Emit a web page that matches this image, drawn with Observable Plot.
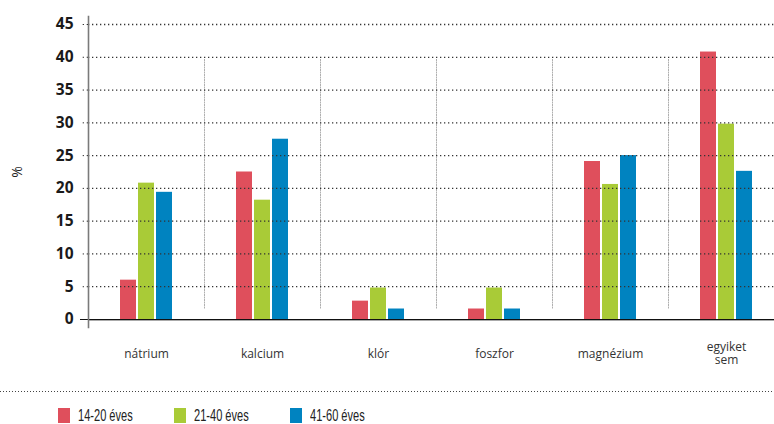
<!DOCTYPE html>
<html>
<head>
<meta charset="utf-8">
<script src="https://cdn.jsdelivr.net/npm/d3@7"></script>
<script src="https://cdn.jsdelivr.net/npm/@observablehq/plot@0.6"></script>
<style>
  html, body { margin: 0; padding: 0; background: #fff; overflow: hidden; width: 774px; height: 424px; }
  #chart svg { display: block; overflow: hidden; }
  .divider { margin-top: 6px; height: 1px; background: repeating-linear-gradient(to right, #444 0 1px, transparent 1px 3px); }
  .legend { display: flex; padding-left: 58px; margin-top: 16px; font-family: "Liberation Sans", "Open Sans", sans-serif; font-size: 16.5px; line-height: 15px; color: #222; }
  .item { width: 116px; display: flex; align-items: center; }
  .swatch { width: 12px; height: 15px; margin-right: 8px; flex: none; }
  .item span.text { display: inline-block; transform: scaleX(0.67); transform-origin: left center; white-space: nowrap; }
</style>
</head>
<body>
<div id="chart"></div>
<div class="divider"></div>
<div class="legend" id="legend"></div>
<script>
// Minerals and the share (%) of each age group
const categories = ["nátrium", "kalcium", "klór", "foszfor", "magnézium", "egyiket sem"];
const categoryLabels = ["nátrium", "kalcium", "klór", "foszfor", "magnézium", "egyiket\nsem"];
const series = ["14-20 éves", "21-40 éves", "41-60 éves"];
const age14to20 = [6.0, 22.5, 2.8, 1.6, 24.1, 40.8];
const age21to40 = [20.8, 18.2, 4.8, 4.8, 20.6, 29.8];
const age41to60 = [19.4, 27.5, 1.6, 1.6, 25.0, 22.6];
const seriesColors = ["#df4f5c", "#a9cb37", "#0083c0"];
const yTicks = [0, 5, 10, 15, 20, 25, 30, 35, 40, 45];

const seriesValues = [age14to20, age21to40, age41to60];
const rows = categories.flatMap((category, i) =>
  series.map((s, j) => ({category, series: s, value: seriesValues[j][i]}))
);

const chart = Plot.plot({
  width: 774,
  height: 385,
  marginTop: 24,
  marginBottom: 66,
  marginLeft: 86,
  marginRight: 0,
  style: {fontFamily: "'Open Sans', sans-serif", background: "#fff"},
  fx: {domain: categories, range: [86, 786], padding: 0, axis: null},
  x: {domain: series, paddingInner: 0.105, paddingOuter: 1.62, axis: null},
  y: {domain: [0, 45], axis: null},
  color: {domain: series, range: seriesColors},
  marks: [
    Plot.barY(rows, {fx: "category", x: "series", y: "value", fill: "series", insetBottom: -2}),
    // light dotted separators between the mineral groups
    Plot.frame({anchor: "left", stroke: "#b0b0b0", strokeDasharray: "1,1.5", insetTop: 35, insetBottom: 10}),
    Plot.ruleY(yTicks.filter(d => d > 0), {stroke: "#333", strokeWidth: 1.3, strokeDasharray: "1.3,2.7"}),
    // baseline: black line with a grey shadow just below
    Plot.ruleY([0], {stroke: "#aaa", strokeWidth: 1, dy: 1}),
    Plot.ruleY([0], {stroke: "#111", strokeWidth: 1}),
    Plot.ruleY([0], {facetAnchor: "left", stroke: "#111", strokeWidth: 1, insetLeft: -8, insetRight: 100}),
    // vertical value axis line
    Plot.frame({anchor: "left", facetAnchor: "left", stroke: "#7a7a7a", strokeWidth: 1.6, insetTop: -8, insetBottom: -8}),
    Plot.axisY({ticks: yTicks.filter(d => d > 0), tickSize: 8, tickPadding: 7, stroke: "#333", strokeDasharray: "1.3,2.7",
      fontSize: 15.5, fontWeight: 700, fill: "#1a1a1a", label: null}),
    Plot.axisY({ticks: [0], tickSize: 0, tickPadding: 15, fontSize: 15.5, fontWeight: 700, fill: "#1a1a1a", label: null}),
    Plot.axisY({ticks: [], label: "%", labelAnchor: "center", labelArrow: "none", labelOffset: 76, fontSize: 14, fill: "#222"}),
    Plot.text(categories, {fx: d => d, text: (d, i) => categoryLabels[i], frameAnchor: "bottom", dy: 34,
      lineAnchor: "middle", lineHeight: 1.1, fontSize: 12, fill: "#333"})
  ]
});
document.getElementById("chart").append(chart);

const legend = document.getElementById("legend");
series.forEach((s, i) => {
  const item = document.createElement("div");
  item.className = "item";
  const sw = document.createElement("span");
  sw.className = "swatch";
  sw.style.background = seriesColors[i];
  const label = document.createElement("span");
  label.className = "text";
  label.textContent = s;
  item.append(sw, label);
  legend.append(item);
});
</script>
</body>
</html>
